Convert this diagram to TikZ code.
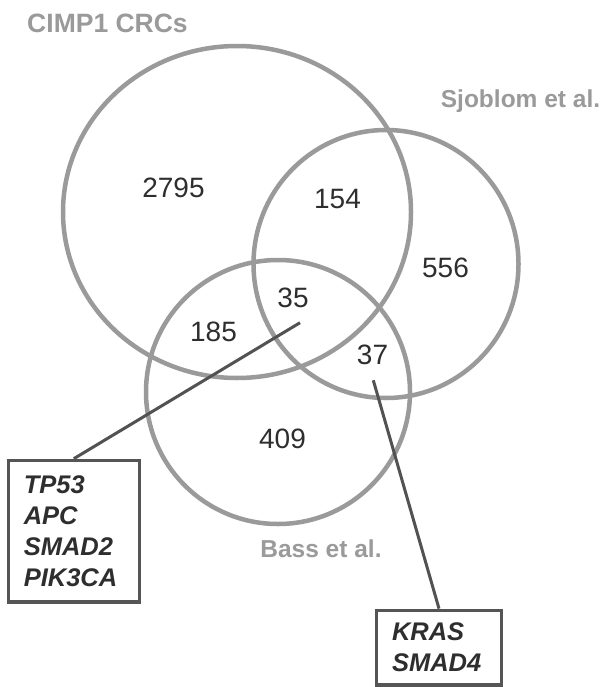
\documentclass[tikz,border=0pt]{standalone}
\usepackage{fontspec}
\setmainfont{Liberation Sans}
\begin{document}
\begin{tikzpicture}[x=1pt,y=-1pt,
  setcircle/.style={draw=ringgray,line width=4.5pt},
  setlabel/.style={text=labelgray,font=\fontsize{24.5}{28}\selectfont\bfseries,inner sep=0pt},
  count/.style={text=numgray,font=\fontsize{28}{32}\selectfont,inner sep=0pt},
  genebox/.style={draw=boxgray,line width=3.5pt,fill=white,align=left,
     font=\fontsize{25.5}{31}\selectfont\bfseries\itshape,text=numgray,inner xsep=13pt,inner ysep=0pt},
  leader/.style={draw=linegray,line width=3pt}]
\definecolor{ringgray}{HTML}{9A9A9A}
\definecolor{labelgray}{HTML}{9A9A9A}
\definecolor{numgray}{HTML}{2E2E2E}
\definecolor{boxgray}{HTML}{555555}
\definecolor{linegray}{HTML}{525252}
\useasboundingbox (0,0) rectangle (613,687);
\fill[white] (0,0) rectangle (613,687);
% circles
\draw[setcircle] (237,212) ellipse [x radius=174, y radius=166];
\draw[setcircle] (386,264) ellipse [x radius=132.5, y radius=134];
\draw[setcircle] (278,392) ellipse [x radius=132, y radius=132];
% labels
\node[setlabel,font=\fontsize{26.5}{30}\selectfont\bfseries] (lc) at (107.5,23.5) {CIMP1 CRCs};
\node[setlabel] (ls) at (520.5,101) {Sjoblom et al.};
\node[setlabel] (lb) at (321,549) {Bass et al.};
% counts
\node[count] (n2795) at (173.5,188) {2795};
\node[count] (n154) at (337.5,199.5) {154};
\node[count] (n556) at (445.5,267.5) {556};
\node[count] (n35) at (293,298) {35};
\node[count] (n185) at (213.5,331.5) {185};
\node[count] (n37) at (372.5,354.5) {37};
\node[count] (n409) at (282.5,438.5) {409};
% boxes
\node[genebox,minimum width=131pt,minimum height=141.5pt,text width=100pt] (b1) at (73.8,531.2)
  {TP53\\APC\\SMAD2\\PIK3CA};
\node[genebox,minimum width=124.6pt,minimum height=74.7pt,text width=94pt] (b2) at (439,647.7)
  {KRAS\\SMAD4};
% leaders
\coordinate (p35) at (300,322.7);
\coordinate (p37) at (373.3,380.3);
\draw[leader] (p35) -- (b1.north);
\draw[leader] (p37) -- (b2.north);
\end{tikzpicture}
\end{document}
